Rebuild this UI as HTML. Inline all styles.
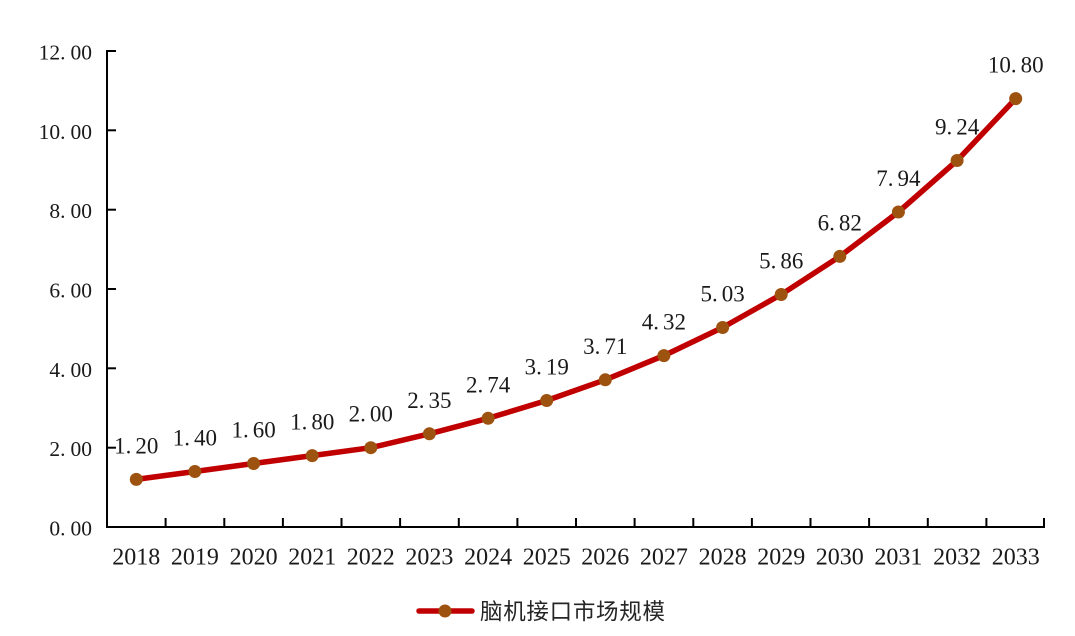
<!DOCTYPE html>
<html>
<head>
<meta charset="utf-8">
<style>
html,body{margin:0;padding:0;background:#fff;}
svg{display:block;}
.t{font-family:"Liberation Serif","Noto Serif CJK SC",serif;fill:#1a1a1a;}
.yl{font-size:21.5px;}
.xl{font-size:24px;}
.dl{font-size:23px;}
.lg{font-family:"Liberation Sans","Noto Sans CJK SC",sans-serif;font-size:22.5px;fill:#262626;}
</style>
</head>
<body>
<svg width="1075" height="636" viewBox="0 0 1075 636" xmlns="http://www.w3.org/2000/svg">
<rect width="1075" height="636" fill="#fff"/>
<!-- axes -->
<g stroke="#000" stroke-width="2" fill="none">
<line x1="107" y1="50" x2="107" y2="528"/>
<line x1="106" y1="527" x2="1045" y2="527"/>
<line x1="107" y1="51" x2="116" y2="51"/>
<line x1="107" y1="130.3" x2="116" y2="130.3"/>
<line x1="107" y1="209.7" x2="116" y2="209.7"/>
<line x1="107" y1="289" x2="116" y2="289"/>
<line x1="107" y1="368.3" x2="116" y2="368.3"/>
<line x1="107" y1="447.7" x2="116" y2="447.7"/>
<line x1="165.6" y1="518" x2="165.6" y2="527"/>
<line x1="224.3" y1="518" x2="224.3" y2="527"/>
<line x1="282.9" y1="518" x2="282.9" y2="527"/>
<line x1="341.5" y1="518" x2="341.5" y2="527"/>
<line x1="400.1" y1="518" x2="400.1" y2="527"/>
<line x1="458.8" y1="518" x2="458.8" y2="527"/>
<line x1="517.4" y1="518" x2="517.4" y2="527"/>
<line x1="576" y1="518" x2="576" y2="527"/>
<line x1="634.6" y1="518" x2="634.6" y2="527"/>
<line x1="693.3" y1="518" x2="693.3" y2="527"/>
<line x1="751.9" y1="518" x2="751.9" y2="527"/>
<line x1="810.5" y1="518" x2="810.5" y2="527"/>
<line x1="869.1" y1="518" x2="869.1" y2="527"/>
<line x1="927.8" y1="518" x2="927.8" y2="527"/>
<line x1="986.4" y1="518" x2="986.4" y2="527"/>
<line x1="1044" y1="518" x2="1044" y2="527"/>
</g>
<!-- y labels -->
<g class="t yl" text-anchor="end">
<text x="92" y="59.5">12.<tspan dx="5">00</tspan></text>
<text x="92" y="138.8">10.<tspan dx="5">00</tspan></text>
<text x="92" y="218.2">8.<tspan dx="5">00</tspan></text>
<text x="92" y="297.5">6.<tspan dx="5">00</tspan></text>
<text x="92" y="376.8">4.<tspan dx="5">00</tspan></text>
<text x="92" y="456.2">2.<tspan dx="5">00</tspan></text>
<text x="92" y="535.5">0.<tspan dx="5">00</tspan></text>
</g>
<!-- x labels -->
<g class="t xl" text-anchor="middle">
<text x="136.3" y="564.5">2018</text>
<text x="194.9" y="564.5">2019</text>
<text x="253.6" y="564.5">2020</text>
<text x="312.2" y="564.5">2021</text>
<text x="370.8" y="564.5">2022</text>
<text x="429.4" y="564.5">2023</text>
<text x="488.1" y="564.5">2024</text>
<text x="546.7" y="564.5">2025</text>
<text x="605.3" y="564.5">2026</text>
<text x="663.9" y="564.5">2027</text>
<text x="722.6" y="564.5">2028</text>
<text x="781.2" y="564.5">2029</text>
<text x="839.8" y="564.5">2030</text>
<text x="898.4" y="564.5">2031</text>
<text x="957.1" y="564.5">2032</text>
<text x="1015.7" y="564.5">2033</text>
</g>
<!-- series line -->
<polyline fill="none" stroke="#C00000" stroke-width="5.5" stroke-linejoin="round" stroke-linecap="round"
points="136.3,479.4 194.9,471.5 253.6,463.5 312.2,455.6 370.8,447.7 429.4,433.8 488.1,418.3 546.7,400.5 605.3,379.8 663.9,355.6 722.6,327.5 781.2,294.5 839.8,256.4 898.4,212.0 957.1,160.5 1015.7,98.6"/>
<!-- markers -->
<g fill="#9E5210">
<circle cx="136.3" cy="479.4" r="6.5"/>
<circle cx="194.9" cy="471.5" r="6.5"/>
<circle cx="253.6" cy="463.5" r="6.5"/>
<circle cx="312.2" cy="455.6" r="6.5"/>
<circle cx="370.8" cy="447.7" r="6.5"/>
<circle cx="429.4" cy="433.8" r="6.5"/>
<circle cx="488.1" cy="418.3" r="6.5"/>
<circle cx="546.7" cy="400.5" r="6.5"/>
<circle cx="605.3" cy="379.8" r="6.5"/>
<circle cx="663.9" cy="355.6" r="6.5"/>
<circle cx="722.6" cy="327.5" r="6.5"/>
<circle cx="781.2" cy="294.5" r="6.5"/>
<circle cx="839.8" cy="256.4" r="6.5"/>
<circle cx="898.4" cy="212.0" r="6.5"/>
<circle cx="957.1" cy="160.5" r="6.5"/>
<circle cx="1015.7" cy="98.6" r="6.5"/>
</g>
<!-- data labels -->
<g class="t dl" text-anchor="middle">
<text x="136.3" y="453.4">1.<tspan dx="4">20</tspan></text>
<text x="194.9" y="445.5">1.<tspan dx="4">40</tspan></text>
<text x="253.6" y="437.5">1.<tspan dx="4">60</tspan></text>
<text x="312.2" y="429.6">1.<tspan dx="4">80</tspan></text>
<text x="370.8" y="421.7">2.<tspan dx="4">00</tspan></text>
<text x="429.4" y="407.8">2.<tspan dx="4">35</tspan></text>
<text x="488.1" y="392.3">2.<tspan dx="4">74</tspan></text>
<text x="546.7" y="374.5">3.<tspan dx="4">19</tspan></text>
<text x="605.3" y="353.8">3.<tspan dx="4">71</tspan></text>
<text x="663.9" y="329.6">4.<tspan dx="4">32</tspan></text>
<text x="722.6" y="301.5">5.<tspan dx="4">03</tspan></text>
<text x="781.2" y="268.5">5.<tspan dx="4">86</tspan></text>
<text x="839.8" y="230.4">6.<tspan dx="4">82</tspan></text>
<text x="898.4" y="186.0">7.<tspan dx="4">94</tspan></text>
<text x="957.1" y="134.5">9.<tspan dx="4">24</tspan></text>
<text x="1015.7" y="72.6">10.<tspan dx="4">80</tspan></text>
</g>
<!-- legend -->
<line x1="419" y1="611" x2="472" y2="611" stroke="#C00000" stroke-width="5.5" stroke-linecap="round"/>
<circle cx="445" cy="611" r="6.5" fill="#9E5210"/>
<text class="lg" x="480" y="619.5" textLength="185" lengthAdjust="spacing">脑机接口市场规模</text>
</svg>
</body>
</html>
